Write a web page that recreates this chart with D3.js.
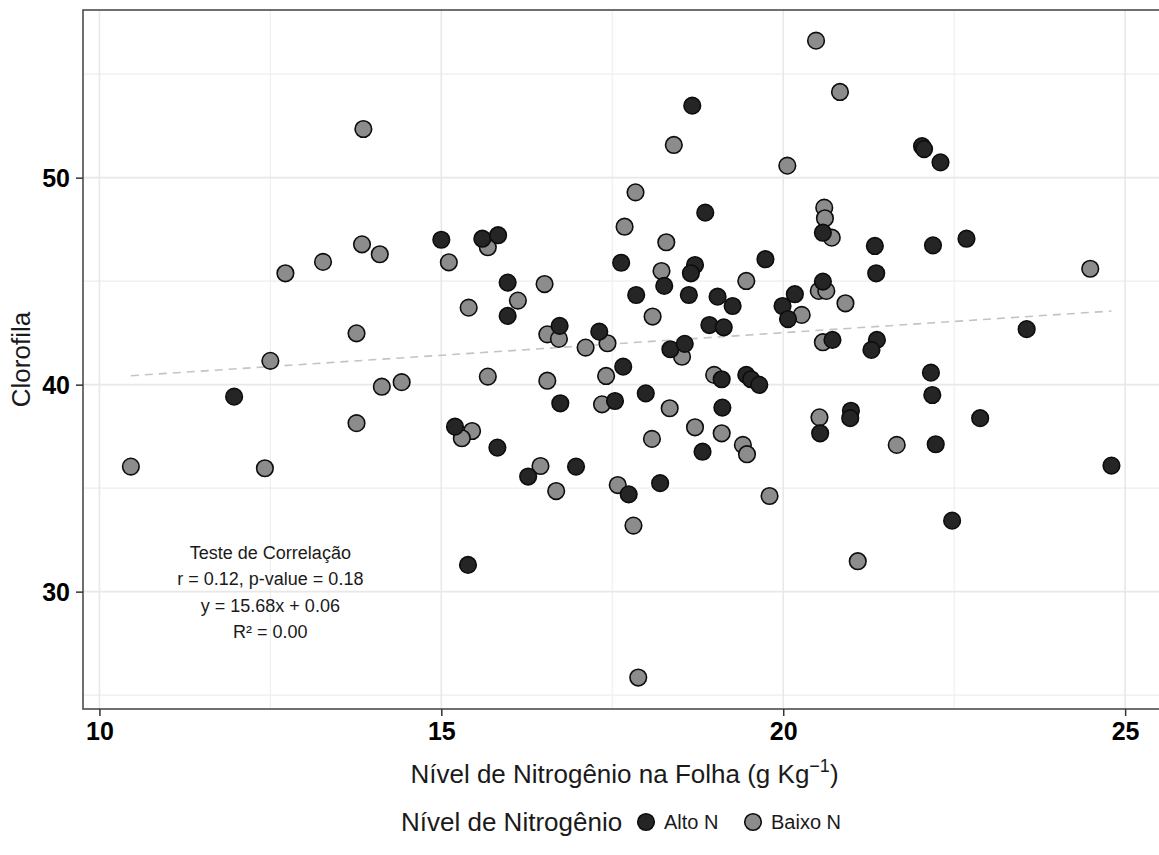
<!DOCTYPE html>
<html>
<head>
<meta charset="utf-8">
<script src="https://cdn.jsdelivr.net/npm/d3@7/dist/d3.min.js"></script>
<style>
  html, body { margin: 0; padding: 0; background: #ffffff; }
  svg { display: block; font-family: "Liberation Sans", Arial, Helvetica, sans-serif; }
</style>
</head>
<body>
<svg id="chart" width="1159" height="855"></svg>
<script>
// Leaf nitrogen (g/kg) vs chlorophyll, high-N group
const altoN = [
  [15.00, 47.00], [15.60, 47.05], [15.83, 47.22], [18.67, 53.48], [18.86, 48.31],
  [17.63, 45.89], [18.71, 45.78], [18.65, 45.38], [19.74, 46.06], [15.97, 44.93],
  [18.26, 44.77], [17.85, 44.33], [18.62, 44.33], [19.04, 44.25], [19.26, 43.80],
  [15.97, 43.32], [19.99, 43.80], [20.17, 44.37], [20.07, 43.17], [18.92, 42.88],
  [19.13, 42.77], [16.73, 42.84], [17.31, 42.56], [18.35, 41.71], [18.56, 41.97],
  [17.66, 40.87], [19.10, 40.26], [19.46, 40.47], [19.53, 40.26], [19.65, 39.99],
  [16.74, 39.10], [17.54, 39.21], [17.99, 39.58], [19.11, 38.89], [15.20, 37.97],
  [15.82, 36.96], [18.82, 36.76], [16.27, 35.56], [16.97, 36.04], [17.74, 34.70],
  [18.20, 35.24], [15.39, 31.29], [11.97, 39.42], [22.03, 51.52], [22.06, 51.38],
  [22.30, 50.74], [20.58, 47.34], [21.34, 46.70], [22.19, 46.73], [22.68, 47.05],
  [21.36, 45.38], [20.58, 44.98], [20.72, 42.16], [21.37, 42.16], [21.29, 41.68],
  [23.56, 42.68], [22.16, 40.58], [22.18, 39.50], [20.54, 37.65], [20.99, 38.74],
  [20.98, 38.38], [22.88, 38.38], [22.23, 37.12], [24.80, 36.09], [22.47, 33.43]
];

// Low-N group
const baixoN = [
  [13.86, 52.35], [13.84, 46.78], [14.10, 46.30], [13.27, 45.93], [12.72, 45.38],
  [13.76, 42.48], [12.50, 41.15], [18.40, 51.58], [20.06, 50.58], [17.84, 49.29],
  [17.68, 47.63], [15.68, 46.64], [18.29, 46.88], [15.11, 45.91], [18.22, 45.49],
  [19.46, 45.01], [16.51, 44.86], [16.12, 44.06], [15.40, 43.72], [18.09, 43.29],
  [20.27, 43.37], [16.55, 42.43], [16.72, 42.21], [17.11, 41.79], [17.43, 42.00],
  [18.52, 41.35], [15.68, 40.39], [16.55, 40.19], [17.41, 40.42], [18.99, 40.47],
  [17.35, 39.05], [18.34, 38.86], [15.45, 37.76], [15.30, 37.41], [18.08, 37.38],
  [18.71, 37.94], [19.10, 37.65], [19.41, 37.09], [19.47, 36.64], [16.45, 36.07],
  [16.68, 34.86], [17.58, 35.15], [19.80, 34.62], [17.81, 33.19], [17.88, 25.85],
  [14.13, 39.90], [14.42, 40.12], [13.76, 38.14], [10.46, 36.04], [12.42, 35.96],
  [20.48, 56.62], [20.83, 54.14], [20.60, 48.55], [20.61, 48.04], [20.71, 47.10],
  [24.49, 45.60], [20.52, 44.53], [20.63, 44.53], [20.91, 43.93], [20.58, 42.05],
  [20.53, 38.42], [21.66, 37.09], [21.09, 31.47]
];

// Fitted trend line drawn across the data range
const trendSlope = 0.218;
const trendIntercept = 38.15;

const xMajorTicks = [10, 15, 20, 25];
const xMinorTicks = [12.5, 17.5, 22.5];
const yMajorTicks = [30, 40, 50];
const yMinorTicks = [25, 35, 45, 55];

const statLines = [
  "Teste de Correlação",
  "r = 0.12, p-value = 0.18",
  "y = 15.68x + 0.06",
  "R² = 0.00"
];
const statAnchor = [12.5, 0];

const groups = [
  { name: "Baixo N", data: baixoN, fill: "#8c8c8c" },
  { name: "Alto N", data: altoN, fill: "#252525" }
];
const legendOrder = ["Alto N", "Baixo N"];

const svg = d3.select("#chart");
const panel = { left: 83, right: 1160, top: 10, bottom: 709 };

const x = d3.scaleLinear().domain([9.76, 25.51]).range([panel.left, panel.right]);
const y = d3.scaleLinear().domain([24.33, 58.10]).range([panel.bottom, panel.top]);

const defs = svg.append("defs");
defs.append("clipPath").attr("id", "panel-clip")
  .append("rect")
  .attr("x", panel.left).attr("y", panel.top)
  .attr("width", panel.right - panel.left).attr("height", panel.bottom - panel.top);

// grid
const grid = svg.append("g").attr("clip-path", "url(#panel-clip)");
grid.selectAll(".vminor").data(xMinorTicks).join("line")
  .attr("x1", d => x(d)).attr("x2", d => x(d))
  .attr("y1", panel.top).attr("y2", panel.bottom)
  .attr("stroke", "#eeeeee").attr("stroke-width", 1.1);
grid.selectAll(".hminor").data(yMinorTicks).join("line")
  .attr("y1", d => y(d)).attr("y2", d => y(d))
  .attr("x1", panel.left).attr("x2", panel.right)
  .attr("stroke", "#eeeeee").attr("stroke-width", 1.1);
grid.selectAll(".vmajor").data(xMajorTicks).join("line")
  .attr("x1", d => x(d)).attr("x2", d => x(d))
  .attr("y1", panel.top).attr("y2", panel.bottom)
  .attr("stroke", "#e8e8e8").attr("stroke-width", 1.6);
grid.selectAll(".hmajor").data(yMajorTicks).join("line")
  .attr("y1", d => y(d)).attr("y2", d => y(d))
  .attr("x1", panel.left).attr("x2", panel.right)
  .attr("stroke", "#e8e8e8").attr("stroke-width", 1.6);

// trend line
const allX = altoN.concat(baixoN).map(d => d[0]);
const xExt = d3.extent(allX);
const trend = xExt.map(v => [v, trendIntercept + trendSlope * v]);
svg.append("path")
  .attr("d", d3.line().x(d => x(d[0])).y(d => y(d[1]))(trend))
  .attr("fill", "none")
  .attr("stroke", "#c4c4c4")
  .attr("stroke-width", 1.6)
  .attr("stroke-dasharray", "8,6");

// points
const pts = svg.append("g").attr("clip-path", "url(#panel-clip)");
groups.forEach(g => {
  pts.append("g").selectAll("circle").data(g.data).join("circle")
    .attr("cx", d => x(d[0]))
    .attr("cy", d => y(d[1]))
    .attr("r", 8.3)
    .attr("fill", g.fill)
    .attr("stroke", "#0d0d0d")
    .attr("stroke-width", 1.6);
});

// statistics annotation
svg.append("g").selectAll("text").data(statLines).join("text")
  .attr("x", x(statAnchor[0]))
  .attr("y", (d, i) => 559 + i * 26.3)
  .attr("text-anchor", "middle")
  .attr("font-size", 18)
  .attr("fill", "#1a1a1a")
  .text(d => d);

// panel border
svg.append("rect")
  .attr("x", panel.left).attr("y", panel.top)
  .attr("width", panel.right - panel.left).attr("height", panel.bottom - panel.top)
  .attr("fill", "none").attr("stroke", "#4d4d4d").attr("stroke-width", 1.6);

// axes
const xAxis = d3.axisBottom(x).tickValues(xMajorTicks).tickSize(7).tickPadding(6).tickFormat(d3.format("d"));
const yAxis = d3.axisLeft(y).tickValues(yMajorTicks).tickSize(7).tickPadding(6).tickFormat(d3.format("d"));

const gx = svg.append("g").attr("transform", `translate(0,${panel.bottom})`).call(xAxis);
const gy = svg.append("g").attr("transform", `translate(${panel.left},0)`).call(yAxis);
[gx, gy].forEach(g => {
  g.select(".domain").remove();
  g.selectAll(".tick line").attr("stroke", "#333333").attr("stroke-width", 1.5);
  g.selectAll(".tick text")
    .attr("font-family", "'Liberation Sans', Arial, sans-serif")
    .attr("font-size", 25).attr("font-weight", "bold").attr("fill", "#000");
});
gx.selectAll(".tick text").attr("dy", "0.71em");
gy.selectAll(".tick text").attr("dy", "0.36em");

// axis titles
const xTitle = svg.append("text")
  .attr("x", (panel.left + panel.right) / 2 + 3)
  .attr("y", 783)
  .attr("text-anchor", "middle")
  .attr("font-size", 26)
  .attr("fill", "#1a1a1a");
xTitle.append("tspan").text("Nível de Nitrogênio na Folha (g Kg");
xTitle.append("tspan").attr("font-size", 18).attr("dy", -11).text("−1");
xTitle.append("tspan").attr("dy", 11).text(")");

svg.append("text")
  .attr("transform", `translate(30,${(panel.top + panel.bottom) / 2}) rotate(-90)`)
  .attr("text-anchor", "middle")
  .attr("font-size", 26)
  .attr("fill", "#1a1a1a")
  .text("Clorofila");

// legend
const legend = svg.append("g").attr("transform", "translate(0,831)");
legend.append("text").attr("x", 401).attr("y", 0)
  .attr("font-size", 26).attr("fill", "#1a1a1a").text("Nível de Nitrogênio");
const keyX = { "Alto N": 646, "Baixo N": 753 };
legendOrder.forEach(name => {
  const g = groups.find(d => d.name === name);
  legend.append("circle").attr("cx", keyX[name]).attr("cy", -9).attr("r", 8.3)
    .attr("fill", g.fill).attr("stroke", "#0d0d0d").attr("stroke-width", 1.6);
  legend.append("text").attr("x", keyX[name] + 18).attr("y", -2)
    .attr("font-size", 20).attr("fill", "#1a1a1a").text(name);
});
</script>
</body>
</html>
